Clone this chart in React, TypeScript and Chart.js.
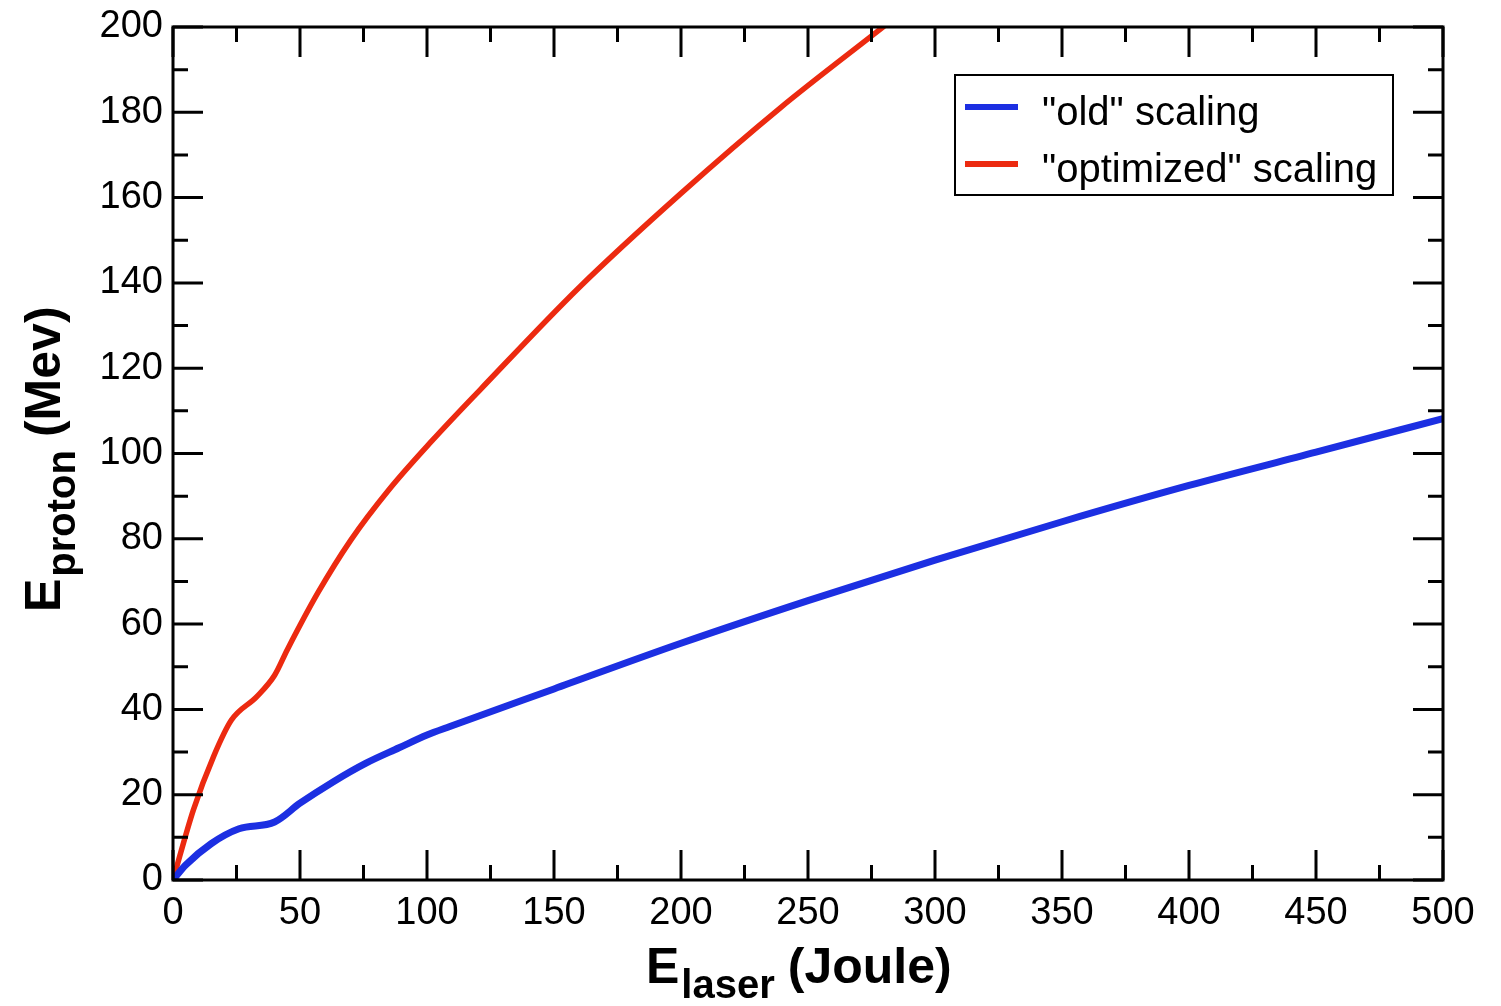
import React, { useEffect, useRef } from "react";
import { Chart, registerables } from "chart.js";

Chart.register(...registerables);

// ---- data ----
const oldX = [0, 5, 15, 26, 40, 50, 63, 76, 89, 100, 109, 150, 200, 250, 300, 350, 400, 450, 500];
const oldY = [0, 3.5, 8.5, 12, 13.6, 18, 23, 27.4, 31, 34, 36, 44.8, 55.5, 65.5, 75, 84, 92.5, 100.3, 108.2];

const optX = [0, 8, 16, 23, 33, 40, 45, 57, 70, 85, 102, 121, 160, 200, 239, 280];
const optY = [0, 16.4, 29, 37.5, 43, 48, 54, 67.3, 79.7, 91.5, 103, 115, 139, 161, 181, 200.2];

const seriesLabels = ['"old" scaling', '"optimized" scaling'];
const seriesColors = ["#1c2fe2", "#ec2a10"];

const xTickValues = [0, 50, 100, 150, 200, 250, 300, 350, 400, 450, 500];
const xMinorTicks = [25, 75, 125, 175, 225, 275, 325, 375, 425, 475];
const yTickValues = [0, 20, 40, 60, 80, 100, 120, 140, 160, 180, 200];
const yMinorTicks = [10, 30, 50, 70, 90, 110, 130, 150, 170, 190];

const FONT = "'Liberation Sans', Arial, Helvetica, sans-serif";

function drawSubTitle(
  ctx: CanvasRenderingContext2D,
  main: string,
  sub: string,
  rest: string,
  mainSize: number,
  subSize: number,
  subDrop: number
) {
  ctx.font = `bold ${mainSize}px ${FONT}`;
  ctx.fillText(main, 0, 0);
  let x = ctx.measureText(main).width + 2;
  ctx.font = `bold ${subSize}px ${FONT}`;
  ctx.fillText(sub, x, subDrop);
  x += ctx.measureText(sub).width + 13;
  ctx.font = `bold ${mainSize}px ${FONT}`;
  ctx.fillText(rest, x, 0);
}

const framePlugin = {
  id: "framePlugin",
  afterDatasetsDraw(chart: any) {
    const { ctx, chartArea } = chart;
    const { left, right, top, bottom } = chartArea;
    const xs = chart.scales.x;
    const ys = chart.scales.y;
    ctx.save();
    ctx.strokeStyle = "#000";
    ctx.lineWidth = 3;
    ctx.lineCap = "butt";
    ctx.strokeRect(left, top, right - left, bottom - top);
    const major = 30;
    const minor = 15;
    ctx.beginPath();
    const xt = (vals: number[], len: number) => {
      vals.forEach((v) => {
        const p = xs.getPixelForValue(v);
        ctx.moveTo(p, bottom);
        ctx.lineTo(p, bottom - len);
        ctx.moveTo(p, top);
        ctx.lineTo(p, top + len);
      });
    };
    const yt = (vals: number[], len: number) => {
      vals.forEach((v) => {
        const p = ys.getPixelForValue(v);
        ctx.moveTo(left, p);
        ctx.lineTo(left + len, p);
        ctx.moveTo(right, p);
        ctx.lineTo(right - len, p);
      });
    };
    xt(xTickValues, major);
    xt(xMinorTicks, minor);
    yt(yTickValues, major);
    yt(yMinorTicks, minor);
    ctx.stroke();

    // legend
    ctx.fillStyle = "#fff";
    ctx.fillRect(955, 75, 438, 120);
    ctx.lineWidth = 2;
    ctx.strokeRect(955, 75, 438, 120);
    const rows = [107, 164];
    chart.data.datasets.forEach((ds: any, i: number) => {
      ctx.strokeStyle = ds.borderColor;
      ctx.lineWidth = 6;
      ctx.beginPath();
      ctx.moveTo(965, rows[i]);
      ctx.lineTo(1018, rows[i]);
      ctx.stroke();
      ctx.fillStyle = "#000";
      ctx.font = `40px ${FONT}`;
      ctx.textAlign = "left";
      ctx.textBaseline = "alphabetic";
      ctx.fillText(ds.label, 1042, rows[i] + 18);
    });

    // axis titles
    ctx.fillStyle = "#000";
    ctx.textAlign = "left";
    ctx.textBaseline = "alphabetic";
    ctx.save();
    ctx.translate(646, 983);
    drawSubTitle(ctx, "E", "laser", "(Joule)", 50, 40, 15);
    ctx.restore();

    ctx.save();
    ctx.translate(60, 612);
    ctx.rotate(-Math.PI / 2);
    drawSubTitle(ctx, "E", "proton", "(Mev)", 50, 40, 15);
    ctx.restore();

    ctx.restore();
  },
};

export default function App() {
  const ref = useRef<HTMLCanvasElement | null>(null);
  useEffect(() => {
    if (!ref.current) return;
    const chart = new Chart(ref.current, {
      type: "line",
      data: {
        datasets: [
          {
            label: seriesLabels[0],
            data: oldX.map((x, i) => ({ x, y: oldY[i] })),
            borderColor: seriesColors[0],
            borderWidth: 7,
            pointRadius: 0,
            cubicInterpolationMode: "monotone",
            fill: false,
          },
          {
            label: seriesLabels[1],
            data: optX.map((x, i) => ({ x, y: optY[i] })),
            borderColor: seriesColors[1],
            borderWidth: 5.5,
            pointRadius: 0,
            cubicInterpolationMode: "monotone",
            fill: false,
          },
        ],
      },
      options: {
        animation: false,
        responsive: false,
        maintainAspectRatio: false,
        layout: { padding: { top: 27, right: 58, left: 0, bottom: 0 } },
        plugins: {
          legend: { display: false },
          tooltip: { enabled: false },
          title: { display: false },
        },
        scales: {
          x: {
            type: "linear",
            min: 0,
            max: 500,
            grid: { display: false, drawTicks: false },
            border: { display: false },
            afterBuildTicks: (scale: any) => {
              scale.ticks = xTickValues.map((v) => ({ value: v }));
            },
            afterFit: (scale: any) => {
              scale.height = 126;
              scale.paddingLeft = 0;
              scale.paddingRight = 0;
            },
            ticks: {
              color: "#000",
              padding: 11,
              maxRotation: 0,
              autoSkip: false,
              font: { family: FONT, size: 38 },
            },
          },
          y: {
            type: "linear",
            min: 0,
            max: 200,
            grid: { display: false, drawTicks: false },
            border: { display: false },
            afterBuildTicks: (scale: any) => {
              scale.ticks = yTickValues.map((v) => ({ value: v }));
            },
            afterFit: (scale: any) => {
              scale.width = 173;
              scale.paddingTop = 0;
              scale.paddingBottom = 0;
            },
            ticks: {
              color: "#000",
              padding: 10,
              autoSkip: false,
              font: { family: FONT, size: 38 },
            },
          },
        },
      },
      plugins: [framePlugin],
    });
    return () => chart.destroy();
  }, []);
  return (
    <div style={{ position: "fixed", left: 0, top: 0, width: 1501, height: 1006, background: "#fff" }}>
      <canvas ref={ref} width={1501} height={1006} style={{ width: 1501, height: 1006, display: "block" }} />
    </div>
  );
}
